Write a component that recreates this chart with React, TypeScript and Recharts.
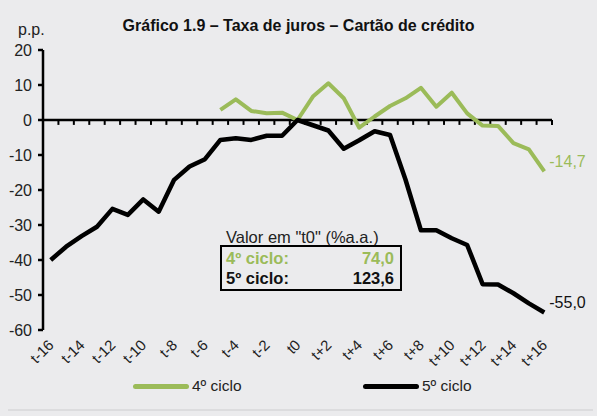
import React from 'react'
import { LineChart, Line, XAxis, YAxis, ReferenceLine, Legend } from 'recharts'

const categories = [
  't-16', 't-15', 't-14', 't-13', 't-12', 't-11', 't-10', 't-9', 't-8', 't-7', 't-6', 't-5', 't-4', 't-3', 't-2', 't-1',
  't0', 't+1', 't+2', 't+3', 't+4', 't+5', 't+6', 't+7', 't+8', 't+9', 't+10', 't+11', 't+12', 't+13', 't+14', 't+15', 't+16',
]

// 4º ciclo starts at t-5
const ciclo4: (number | null)[] = [
  null, null, null, null, null, null, null, null, null, null, null,
  2.9, 5.9, 2.6, 1.9, 2.1, 0, 6.7, 10.5, 6.2, -2.2, 1, 4, 6.2, 9.2, 3.8, 7.8, 1.9, -1.6, -1.7, -6.6, -8.4, -14.7,
]

const ciclo5 = [
  -40, -36.2, -33.2, -30.5, -25.4, -27.1, -22.7, -26.2, -17.1, -13.3, -11.2, -5.7, -5.2, -5.7, -4.5, -4.5,
  0, -1.5, -3, -8.2, -5.8, -3.2, -4.3, -17, -31.5, -31.5, -33.8, -35.7, -46.9, -47, -49.5, -52.4, -55,
]

const yTicks = [20, 10, 0, -10, -20, -30, -40, -50, -60]
const xLabelTicks = categories.map((_, i) => i).filter(i => i % 2 === 0)
const boundaries = [...categories.map((_, i) => i - 0.5), categories.length - 0.5]

const GREEN = '#9bbb59'
const FONT = '"Liberation Sans", Arial, sans-serif'

const data = categories.map((cat, i) => ({ i, cat, c4: ciclo4[i], c5: ciclo5[i] }))

const XTick = ({ x, y, payload }: any) => (
  <text
    x={x + 4}
    y={y + 8}
    transform={`rotate(-45 ${x + 4} ${y + 8})`}
    textAnchor="end"
    fontSize={15}
    fontFamily={FONT}
    fill="#222"
  >
    {categories[payload.value]}
  </text>
)

const endLabel = (color: string) => (props: any) => {
  if (props.index !== categories.length - 1) return null
  return (
    <text x={props.x + 5} y={props.y - 9} fontSize={16} fontFamily={FONT} fill={color} dominantBaseline="middle">
      {String(props.value.toFixed(1)).replace('.', ',')}
    </text>
  )
}

const LegendContent = ({ payload }: any) => (
  <div style={{ position: 'relative', height: 20, fontFamily: FONT, fontSize: 15.5, color: '#222' }}>
    {(payload || []).map((p: any, k: number) => (
      <div key={p.value} style={{ position: 'absolute', left: k === 0 ? 133 : 363, top: 0, display: 'flex', alignItems: 'center' }}>
        <span style={{ display: 'inline-block', width: 56, height: 5, borderRadius: 3, background: p.color, marginRight: 3 }} />
        <span>{p.value}</span>
      </div>
    ))}
  </div>
)

export default function App() {
  return (
    <div style={{ position: 'absolute', left: 0, top: 0, width: 597, height: 416, background: '#ebebed', fontFamily: FONT, overflow: 'hidden' }}>
      <div style={{ position: 'absolute', top: 17, left: 0, width: 597, textAlign: 'center', fontWeight: 'bold', fontSize: 16, color: '#111' }}>
        Gráfico 1.9 – Taxa de juros – Cartão de crédito
      </div>
      <div style={{ position: 'absolute', top: 21, left: 18, fontSize: 16, color: '#222' }}>p.p.</div>

      <LineChart width={597} height={416} data={data} margin={{ top: 50, right: 45, left: 8, bottom: 26 }}>
        <XAxis
          dataKey="i"
          type="number"
          domain={[-0.5, categories.length - 0.5]}
          ticks={xLabelTicks}
          interval={0}
          tick={<XTick />}
          axisLine={false}
          tickLine={false}
          height={40}
        />
        <YAxis
          domain={[-60, 20]}
          ticks={yTicks}
          interval={0}
          width={35}
          axisLine={{ stroke: '#000', strokeWidth: 2.5 }}
          tickLine={{ stroke: '#000', strokeWidth: 2.5 }}
          tickSize={5}
          tickMargin={6}
          tick={{ fill: '#222', fontSize: 16, fontFamily: FONT }}
        />
        <ReferenceLine y={0} stroke="#000" strokeWidth={2.5} />
        {boundaries.map(b => (
          <ReferenceLine
            key={b}
            segment={[{ x: b, y: 0 }, { x: b, y: -1.4 }]}
            stroke="#000"
            strokeWidth={2}
          />
        ))}
        <Legend content={<LegendContent />} wrapperStyle={{ position: 'absolute', left: 0, top: 377, width: 597 }} />
        <Line
          name="4º ciclo"
          dataKey="c4"
          stroke={GREEN}
          strokeWidth={4}
          strokeLinejoin="round"
          dot={false}
          isAnimationActive={false}
          label={endLabel(GREEN)}
        />
        <Line
          name="5º ciclo"
          dataKey="c5"
          stroke="#000"
          strokeWidth={4.5}
          strokeLinejoin="round"
          dot={false}
          isAnimationActive={false}
          label={endLabel('#111')}
        />
      </LineChart>

      <div style={{ position: 'absolute', left: 226, top: 228, fontSize: 16.5, color: '#222' }}>Valor em "t0" (%a.a.)</div>
      <div
        style={{
          position: 'absolute', left: 220, top: 245, width: 168, height: 41, border: '2.5px solid #000',
          fontSize: 16.5, fontWeight: 'bold', padding: '1px 6px 0 4px', boxSizing: 'content-box', lineHeight: '20px',
        }}
      >
        <div style={{ display: 'flex', justifyContent: 'space-between', color: GREEN, height: 20 }}>
          <span>4º ciclo:</span><span>74,0</span>
        </div>
        <div style={{ display: 'flex', justifyContent: 'space-between', color: '#111', height: 20 }}>
          <span>5º ciclo:</span><span>123,6</span>
        </div>
      </div>
      <div style={{ position: 'absolute', left: 8, top: 409, width: 585, height: 2, background: '#dcdcde' }} />
    </div>
  )
}
